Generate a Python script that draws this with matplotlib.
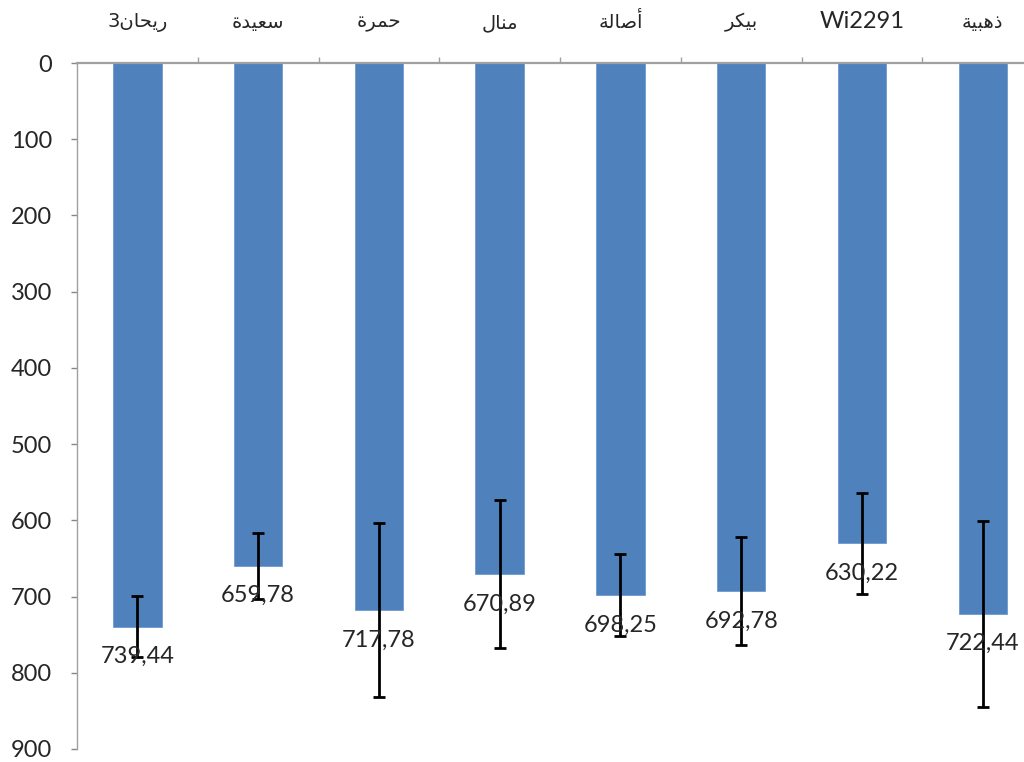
import matplotlib
matplotlib.use('Agg')
import matplotlib.pyplot as plt
import numpy as np

varieties = ['ريحان3', 'سعيدة', 'حمرة', 'منال', 'أصالة', 'بيكر', 'Wi2291', 'ذهبية']
means = [739.44, 659.78, 717.78, 670.89, 698.25, 692.78, 630.22, 722.44]
errors = [40.5, 43.5, 114, 97, 53.5, 71, 66, 122]
y_ticks = [0, 100, 200, 300, 400, 500, 600, 700, 800, 900]

# presentation forms: isolated, final, initial, medial
FORMS = {
    'ا': ('\uFE8D', '\uFE8E', None, None),
    'أ': ('\uFE83', '\uFE84', None, None),
    'ب': ('\uFE8F', '\uFE90', '\uFE91', '\uFE92'),
    'ة': ('\uFE93', '\uFE94', None, None),
    'ح': ('\uFEA1', '\uFEA2', '\uFEA3', '\uFEA4'),
    'د': ('\uFEA9', '\uFEAA', None, None),
    'ذ': ('\uFEAB', '\uFEAC', None, None),
    'ر': ('\uFEAD', '\uFEAE', None, None),
    'س': ('\uFEB1', '\uFEB2', '\uFEB3', '\uFEB4'),
    'ص': ('\uFEB9', '\uFEBA', '\uFEBB', '\uFEBC'),
    'ع': ('\uFEC9', '\uFECA', '\uFECB', '\uFECC'),
    'ك': ('\uFED9', '\uFEDA', '\uFEDB', '\uFEDC'),
    'ل': ('\uFEDD', '\uFEDE', '\uFEDF', '\uFEE0'),
    'م': ('\uFEE1', '\uFEE2', '\uFEE3', '\uFEE4'),
    'ن': ('\uFEE5', '\uFEE6', '\uFEE7', '\uFEE8'),
    'ه': ('\uFEE9', '\uFEEA', '\uFEEB', '\uFEEC'),
    'ي': ('\uFEF1', '\uFEF2', '\uFEF3', '\uFEF4'),
}


def shape_arabic(word):
    # matplotlib has no text shaping, so pick joined forms and reorder by hand
    shaped = []
    for i, ch in enumerate(word):
        if ch not in FORMS:
            shaped.append((ch, False))
            continue
        iso, fin, ini, med = FORMS[ch]
        prev = word[i - 1] if i > 0 else ''
        nxt = word[i + 1] if i + 1 < len(word) else ''
        join_prev = prev in FORMS and FORMS[prev][2] is not None
        join_next = ini is not None and nxt in FORMS
        if join_prev and join_next:
            form = med
        elif join_prev:
            form = fin
        elif join_next:
            form = ini
        else:
            form = iso
        shaped.append((form, True))
    if not any(a for _, a in shaped):
        return word
    runs = []
    for ch, is_ar in shaped:
        if runs and runs[-1][1] == is_ar:
            runs[-1][0].append(ch)
        else:
            runs.append(([ch], is_ar))
    out = ''
    for chars, is_ar in reversed(runs):
        out += ''.join(reversed(chars)) if is_ar else ''.join(chars)
    return out


fig = plt.figure(figsize=(10.24, 7.62), dpi=100)
ax = fig.add_axes([0.0752, 0.0171, 0.9434, 0.9002])
x = np.arange(len(varieties))
ax.bar(x, means, width=0.4, color='#4f81bd', edgecolor='#6f9ad0', linewidth=0.6, zorder=2)
ax.errorbar(x, means, yerr=errors, fmt='none', ecolor='black', elinewidth=2, capsize=4.5, capthick=2, zorder=3)
for (xi, m) in zip(x, means):
    ax.annotate(f'{m:.2f}'.replace('.', ','), (xi, m), textcoords='offset points', xytext=(0, -21.5), ha='center', va='center', fontsize=17, family='Lato', color='#262626', zorder=4)

ax.set_xlim(-0.5, len(varieties) - 0.5)
ax.set_ylim(900, 0)
ax.set_yticks(y_ticks)
ax.set_yticklabels([str(t) for t in y_ticks], fontsize=17, family='Lato', color='#262626')
ax.tick_params(axis='y', direction='out', length=4, width=1, color='#868686', pad=14)

ax.xaxis.tick_top()
ax.set_xticks(x)
ax.set_xticklabels([shape_arabic(v) for v in varieties])
ax.tick_params(axis='x', which='major', length=0, pad=22)
for lab, v in zip(ax.get_xticklabels(), varieties):
    if any(ch in FORMS for ch in v):
        lab.set_fontfamily('DejaVu Sans')
        lab.set_fontsize(14)
    else:
        lab.set_fontfamily('Lato')
        lab.set_fontsize(17)
    lab.set_color('#262626')
ax.set_xticks(x[:-1] + 0.5, minor=True)
ax.tick_params(axis='x', which='minor', top=True, direction='out', length=4, width=1, color='#a0a0a0')

for side in ['bottom', 'right']:
    ax.spines[side].set_visible(False)
ax.spines['top'].set_color('#a0a0a0')
ax.spines['top'].set_linewidth(1.6)
ax.spines['left'].set_color('#a0a0a0')
ax.spines['left'].set_linewidth(1)

fig.savefig('out.png', dpi=100, facecolor='white')
plt.close()
print('Saved: out.png')
